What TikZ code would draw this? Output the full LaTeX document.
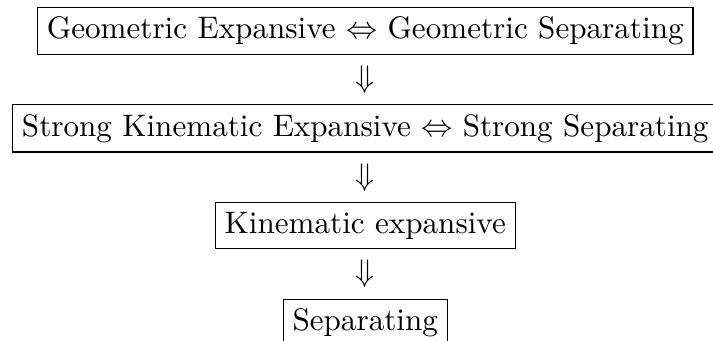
\documentclass[tikz,border=0pt]{standalone}
\usepackage{amsmath}
\usepackage{tikz}
\usetikzlibrary{positioning, calc}

\begin{document}
\begin{tikzpicture}[
    node distance=3.3pt,
    every node/.style={font=\normalsize},
    box/.style={rectangle, draw, inner sep=3pt},
    imp/.style={inner sep=0pt},
]

\node[box] (geo) {Geometric Expansive $\Leftrightarrow$ Geometric Separating};
\node[imp, below=of geo] (impa) {$\Downarrow$};
\node[box, below=of impa] (strong) {Strong Kinematic Expansive $\Leftrightarrow$ Strong Separating};
\node[imp, below=of strong] (impb) {$\Downarrow$};
\node[box, below=of impb] (kin) {Kinematic expansive};
\node[imp, below=of kin] (impc) {$\Downarrow$};
\node[box, below=of impc] (sep) {Separating};

% frame, cut on the right and at the bottom
\pgfresetboundingbox
\path[use as bounding box] let \p1=(strong.west), \p2=(strong.east), \p3=(geo.north),
    \n1={(\x2-\x1)/706.5} in
    (\x1-12*\n1, \y3+6.5*\n1) rectangle (\x1+701*\n1, \y3-333.5*\n1);

\end{tikzpicture}
\end{document}
